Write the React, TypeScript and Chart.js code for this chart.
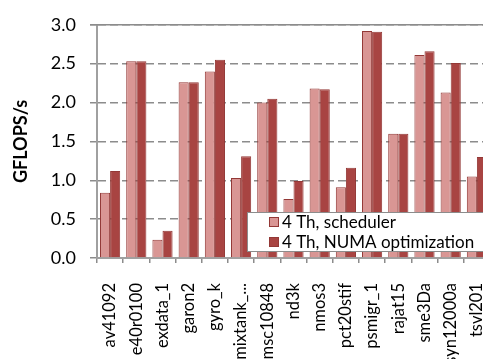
import React, { useEffect, useRef } from "react";
import { Chart, registerables } from "chart.js";

Chart.register(...registerables);

const matrices = [
  "av41092", "e40r0100", "exdata_1", "garon2", "gyro_k", "mixtank_...",
  "msc10848", "nd3k", "nmos3", "pct20stif", "psmigr_1", "rajat15",
  "sme3Da", "syn12000a", "tsvl201",
];
const schedulerGflops = [
  0.84, 2.53, 0.235, 2.26, 2.40, 1.03, 2.00, 0.76, 2.18, 0.91, 2.92, 1.60,
  2.61, 2.13, 1.05,
];
const numaGflops = [
  1.12, 2.53, 0.35, 2.26, 2.55, 1.31, 2.05, 0.99, 2.17, 1.16, 2.91, 1.60,
  2.66, 2.51, 1.30,
];
const seriesNames = ["4 Th, scheduler", "4 Th, NUMA optimization"];
const yTicks = [0, 0.5, 1.0, 1.5, 2.0, 2.5, 3.0];

const FONT = "Lato, 'Open Sans', sans-serif";
const LIGHT = "#D99694";
const DARK = "#A84442";
const EDGE = "#933836";
const GRID = "#8C8C8C";

// Legend box drawn inside the plot, over the lower right bars
const insideLegend = {
  id: "insideLegend",
  afterDraw(chart: any) {
    const { ctx, chartArea } = chart;
    const x0 = 247;
    const y0 = 212;
    const w = chart.width - x0 + 10;
    const h = 39;
    ctx.save();
    ctx.fillStyle = "#FFFFFF";
    ctx.fillRect(x0, y0, w, h);
    ctx.strokeStyle = "#8C8C8C";
    ctx.lineWidth = 1;
    ctx.strokeRect(x0 + 0.5, y0 + 0.5, w, h);
    ctx.font = `17px ${FONT}`;
    ctx.textBaseline = "middle";
    chart.data.datasets.forEach((ds: any, i: number) => {
      const cy = y0 + 10 + i * 20;
      ctx.fillStyle = ds.backgroundColor;
      ctx.fillRect(269, cy - 5, 10, 10);
      ctx.strokeStyle = ds.borderColor;
      ctx.strokeRect(269.5, cy - 4.5, 9, 9);
      ctx.fillStyle = "#000";
      ctx.fillText(ds.label, 282, cy + 1);
    });
    // solid frame line along the top of the plot
    ctx.strokeStyle = GRID;
    ctx.lineWidth = 1.5;
    ctx.beginPath();
    ctx.moveTo(chartArea.left - 7, chartArea.top);
    ctx.lineTo(chartArea.right, chartArea.top);
    ctx.stroke();
    ctx.restore();
  },
};

export default function App() {
  const ref = useRef<HTMLCanvasElement>(null);

  useEffect(() => {
    const canvas = ref.current!;
    const chart = new Chart(canvas, {
      type: "bar",
      data: {
        labels: matrices,
        datasets: [
          {
            label: seriesNames[0],
            data: schedulerGflops,
            backgroundColor: LIGHT,
            borderColor: EDGE,
            borderWidth: 1,
          },
          {
            label: seriesNames[1],
            data: numaGflops,
            backgroundColor: DARK,
            borderColor: EDGE,
            borderWidth: 1,
          },
        ],
      },
      options: {
        animation: false,
        responsive: false,
        devicePixelRatio: 1,
        layout: { padding: { top: 15, left: 0, right: 0, bottom: 0 } },
        datasets: { bar: { categoryPercentage: 0.77, barPercentage: 1.0 } },
        plugins: { legend: { display: false }, tooltip: { enabled: false } },
        scales: {
          x: {
            grid: {
              display: true,
              offset: true,
              drawOnChartArea: false,
              drawTicks: true,
              tickLength: 5,
              color: GRID,
              lineWidth: 1.5,
            },
            border: { display: true, color: "#A0A0A0", width: 2 },
            ticks: {
              autoSkip: false,
              minRotation: 90,
              maxRotation: 90,
              padding: 20,
              color: "#000",
              font: { family: FONT, size: 16.5 },
            },
            afterFit(scale: any) {
              scale.height = 101;
              // the plot runs on past the right edge of the canvas
              scale.paddingLeft = 0;
              scale.paddingRight = 0;
            },
          },
          y: {
            min: 0,
            max: 3,
            afterBuildTicks(scale: any) {
              scale.ticks = yTicks.map((v) => ({ value: v }));
            },
            grid: {
              color: GRID,
              lineWidth: 1.5,
              tickLength: 7,
            },
            border: { display: true, color: "#A0A0A0", width: 2, dash: [8, 4] },
            ticks: {
              padding: 14,
              color: "#000",
              font: { family: FONT, size: 18 },
              callback: (v: any) => Number(v).toFixed(1),
            },
            title: {
              display: true,
              text: "GFLOPS/s",
              color: "#000",
              font: { family: FONT, size: 18, weight: "bold" },
              padding: { top: 10, bottom: 0 },
            },
            afterFit(scale: any) {
              scale.width = 97;
            },
          },
        },
      },
      plugins: [insideLegend],
    });
    return () => chart.destroy();
  }, []);

  return (
    <div
      style={{
        position: "fixed",
        left: 0,
        top: 0,
        width: 483,
        height: 359,
        overflow: "hidden",
        background: "#fff",
      }}
    >
      <canvas ref={ref} width={490} height={359} style={{ display: "block" }} />
    </div>
  );
}
